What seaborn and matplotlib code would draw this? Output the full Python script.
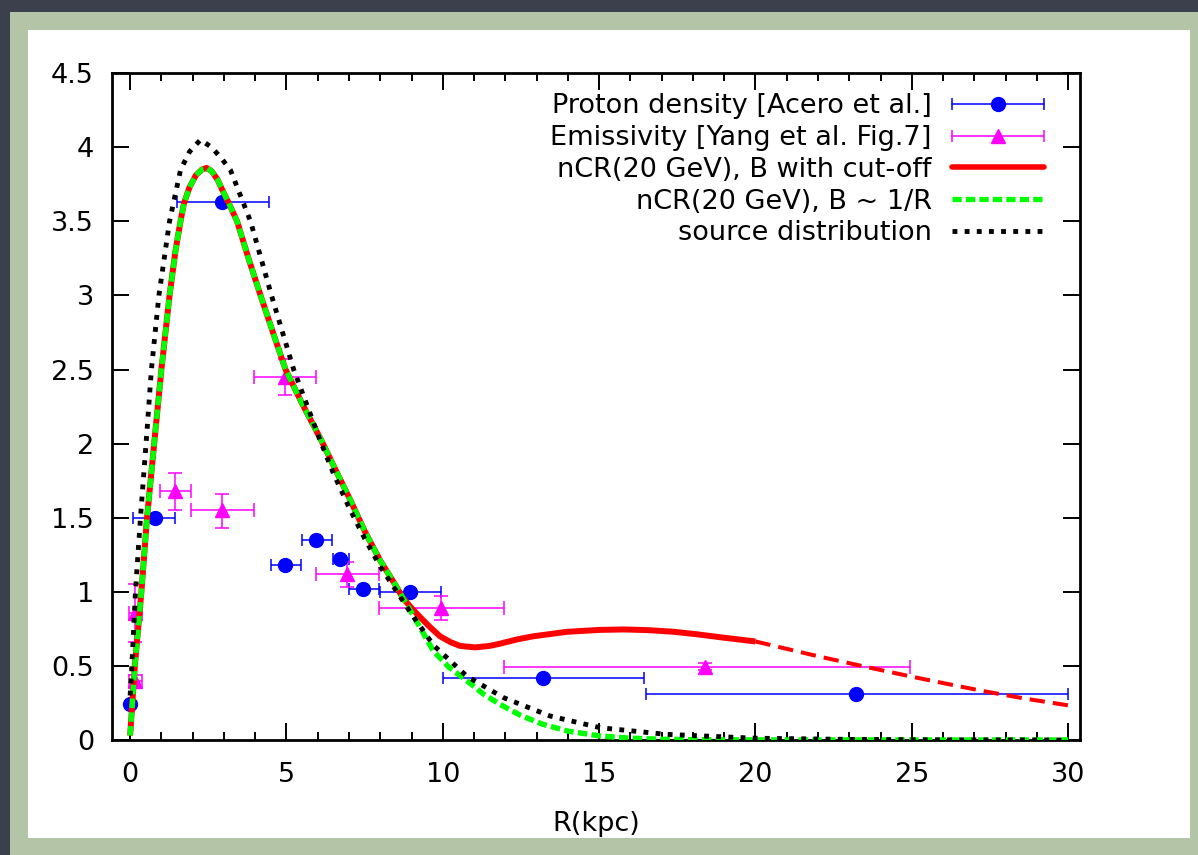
import numpy as np
import pandas as pd
import matplotlib
matplotlib.use("Agg")
import matplotlib.pyplot as plt
import seaborn as sns
from matplotlib.patches import Rectangle
from matplotlib.lines import Line2D
from matplotlib.legend_handler import HandlerBase
from matplotlib.ticker import MultipleLocator, FuncFormatter

# ---------------- data ----------------
# Proton density [Acero et al.]
blue_r = [0.0, 0.8, 2.95, 4.95, 5.95, 6.7, 7.45, 8.95, 13.2, 23.2]
blue_n = [0.24, 1.5, 3.63, 1.18, 1.35, 1.22, 1.02, 1.0, 0.42, 0.31]
blue_rlo = [0.0, 0.1, 1.5, 4.5, 5.5, 6.5, 7.0, 8.0, 10.0, 16.5]
blue_rhi = [0.0, 1.45, 4.45, 5.45, 6.45, 7.0, 7.95, 9.95, 16.45, 30.0]

# Emissivity [Yang et al. Fig.7]
mag_r = [0.15, 0.15, 1.45, 2.95, 4.95, 6.95, 9.95, 18.4]
mag_e = [0.86, 0.40, 1.68, 1.55, 2.45, 1.12, 0.89, 0.495]
mag_rlo = [-0.05, -0.05, 0.95, 1.95, 3.95, 5.95, 7.95, 11.95]
mag_rhi = [0.38, 0.38, 1.95, 3.95, 5.95, 7.95, 11.95, 24.95]
mag_elo = [0.66, 0.36, 1.55, 1.43, 2.33, 1.03, 0.81, 0.47]
mag_ehi = [1.05, 0.44, 1.80, 1.66, 2.57, 1.20, 0.97, 0.52]

# nCR(20 GeV), B ~ 1/R  (green)
green_r = [0.0, 0.15, 0.36, 0.54, 0.81, 1.0, 1.26, 1.45, 1.61, 1.72, 1.9, 2.1, 2.3, 2.44,
           2.6, 2.8, 2.95, 3.16, 3.42, 3.8, 4.17, 4.6, 4.97, 5.5, 6.12, 6.6, 7.04, 7.5, 8.0,
           8.5, 8.72, 9.0, 9.27, 9.7, 10.2, 10.77, 11.3, 11.83, 12.5, 13.2, 14.0, 15.03,
           16.0, 17.0, 18.0, 20.0, 25.0, 30.0]
green_n = [0.03, 0.5, 1.0, 1.5, 2.09, 2.5, 3.0, 3.3, 3.5, 3.62, 3.73, 3.81, 3.85, 3.86,
           3.84, 3.78, 3.71, 3.62, 3.5, 3.24, 3.0, 2.73, 2.5, 2.27, 2.02, 1.81, 1.62, 1.41, 1.21,
           1.04, 0.96, 0.86, 0.76, 0.60, 0.49, 0.40, 0.31, 0.24, 0.165, 0.106, 0.06, 0.027,
           0.012, 0.005, 0.002, 0.0005, 0.0, 0.0]

# nCR(20 GeV), B with cut-off  (red) -- identical to green below ~8.7 kpc
red_extra_r = [9.0, 9.27, 9.6, 9.91, 10.25, 10.55, 11.03, 11.5, 11.83, 12.4, 12.9, 13.97,
               15.03, 15.8, 16.6, 17.4, 18.1, 19.0, 20.0]
red_extra_n = [0.89, 0.83, 0.76, 0.70, 0.66, 0.635, 0.625, 0.635, 0.65, 0.68, 0.70, 0.73,
               0.743, 0.746, 0.741, 0.73, 0.714, 0.69, 0.665]
red_dash_r = [20.0, 21.0, 21.96, 23.5, 24.94, 26.1, 27.29, 28.6, 30.0]
red_dash_n = [0.665, 0.615, 0.567, 0.495, 0.43, 0.38, 0.33, 0.28, 0.234]

# source distribution (black dotted)
src_r = [0.0, 0.05, 0.17, 0.33, 0.54, 0.68, 0.92, 1.26, 1.61, 1.9, 2.25, 2.6, 2.9, 3.21,
         3.85, 4.52, 5.23, 6.08, 6.5, 7.0, 7.5, 8.0, 8.5, 9.0, 9.7, 10.77, 11.94, 13.43,
         15.03, 17.16, 20.0, 23.0, 26.0, 30.0]
src_n = [0.3, 0.48, 1.0, 1.5, 2.09, 2.5, 3.0, 3.5, 3.845, 3.97, 4.05, 4.0, 3.93, 3.845,
         3.5, 3.0, 2.5, 2.02, 1.80, 1.57, 1.36, 1.17, 1.01, 0.85, 0.64, 0.43, 0.286, 0.162,
         0.083, 0.038, 0.012, 0.004, 0.001, 0.0]

labels = ["Proton density [Acero et al.]", "Emissivity [Yang et al. Fig.7]",
          "nCR(20 GeV), B with cut-off", "nCR(20 GeV), B ~ 1/R", "source distribution"]

# ---------------- styling ----------------
sns.set_theme(style="ticks")
plt.rcParams["font.family"] = ["DejaVu Sans"]

BLUE, MAG, RED, GREEN, BLACK = "#0000ff", "#ff00ff", "#ff0000", "#00ff00", "#000000"
FS = 19.5
GREEN_LS = (0, (1.75, 0.8))
BLACK_LS = (0, (1.0, 1.5))

fig = plt.figure(figsize=(11.98, 8.55), dpi=100)
fig.patch.set_facecolor("#3c404c")
fig.patches.append(Rectangle((0.0083, 0.0), 0.9917, 0.986, transform=fig.transFigure,
                             facecolor="#b4c4a6", edgecolor="none", zorder=-10))
fig.patches.append(Rectangle((0.0234, 0.0199), 0.970, 0.9451, transform=fig.transFigure,
                             facecolor="white", edgecolor="none", zorder=-9))

ax = fig.add_axes([0.0935, 0.1345, 0.808, 0.780])
ax.set_zorder(5)
ax.set_facecolor("white")

# error-bar data
br = np.array(blue_r)
ax.errorbar(blue_r, blue_n, xerr=[br - np.array(blue_rlo), np.array(blue_rhi) - br],
            fmt="o", color=BLUE, ms=10, elinewidth=1.1, capsize=4.5, capthick=1.1, zorder=3)
mr = np.array(mag_r)
me = np.array(mag_e)
ax.errorbar(mag_r, mag_e, xerr=[mr - np.array(mag_rlo), np.array(mag_rhi) - mr],
            yerr=[me - np.array(mag_elo), np.array(mag_ehi) - me],
            fmt="^", color=MAG, ms=9.5, elinewidth=1.1, capsize=5, capthick=1.1, zorder=3)

# curves
red_r = [r for r in green_r if r <= 8.72] + red_extra_r
red_n = [n for r, n in zip(green_r, green_n) if r <= 8.72] + red_extra_n
red_df = pd.DataFrame({"R": red_r, "n": red_n})
sns.lineplot(data=red_df, x="R", y="n", ax=ax, color=RED, lw=4.3, sort=False,
             estimator=None, solid_capstyle="butt", zorder=4)
sns.lineplot(x=red_dash_r, y=red_dash_n, ax=ax, color=RED, lw=2.9, sort=False,
             estimator=None, ls=(0, (3.8, 2.0)), zorder=4)
sns.lineplot(x=green_r, y=green_n, ax=ax, color=GREEN, lw=3.9, sort=False,
             estimator=None, ls=GREEN_LS, zorder=5)
sns.lineplot(x=src_r, y=src_n, ax=ax, color=BLACK, lw=3.5, sort=False,
             estimator=None, ls=BLACK_LS, zorder=6)

# axes
ax.set_xlim(-0.58, 30.38)
ax.set_ylim(0, 4.5)
ax.xaxis.set_major_locator(MultipleLocator(5))
ax.xaxis.set_minor_locator(MultipleLocator(1))
ax.yaxis.set_major_locator(MultipleLocator(0.5))
fmt = FuncFormatter(lambda v, p: "%g" % v)
ax.xaxis.set_major_formatter(fmt)
ax.yaxis.set_major_formatter(fmt)
ax.tick_params(which="both", direction="in", top=True, right=True, colors="black",
               width=1.4)
ax.tick_params(which="major", length=12, labelsize=FS)
ax.tick_params(axis="y", which="major", pad=13)
ax.tick_params(axis="x", which="major", pad=15.5)
ax.tick_params(which="minor", length=6)
for s in ax.spines.values():
    s.set_linewidth(2.0)
    s.set_color("black")
ax.set_xlabel("R(kpc)", fontsize=FS, labelpad=17, color="black")
ax.set_ylabel("")


class HandlerXErr(HandlerBase):
    def __init__(self, color, marker, ms, **kw):
        super().__init__(**kw)
        self.c, self.m, self.ms = color, marker, ms

    def create_artists(self, legend, orig_handle, xdescent, ydescent, width, height,
                       fontsize, trans):
        y = (height - ydescent) / 2
        x0, x1 = -xdescent, width - xdescent
        line = Line2D([x0, x1], [y, y], color=self.c, lw=1.1)
        caps = Line2D([x0, x1], [y, y], ls="none", marker="|", ms=9, mew=1.1, color=self.c)
        mk = Line2D([(x0 + x1) / 2], [y], ls="none", marker=self.m, ms=self.ms, color=self.c)
        for a in (line, caps, mk):
            a.set_transform(trans)
        return [line, caps, mk]


h1 = Line2D([], [])
h2 = Line2D([], [])
h3 = Line2D([], [], color=RED, lw=4.0)
h4 = Line2D([], [], color=GREEN, lw=3.8, ls=GREEN_LS)
h5 = Line2D([], [], color=BLACK, lw=3.5, ls=BLACK_LS)
leg = ax.legend([h1, h2, h3, h4, h5], labels, loc="upper right",
                bbox_to_anchor=(0.988, 1.006), frameon=False, markerfirst=False,
                handlelength=3.4, fontsize=FS, labelspacing=0.21, handletextpad=0.75,
                handler_map={h1: HandlerXErr(BLUE, "o", 10), h2: HandlerXErr(MAG, "^", 9.5)})
try:
    leg._legend_box.get_children()[1].get_children()[0].align = "right"
except Exception:
    pass
for t in leg.get_texts():
    t.set_color("black")

fig.savefig("out.png", dpi=100, facecolor=fig.get_facecolor())
